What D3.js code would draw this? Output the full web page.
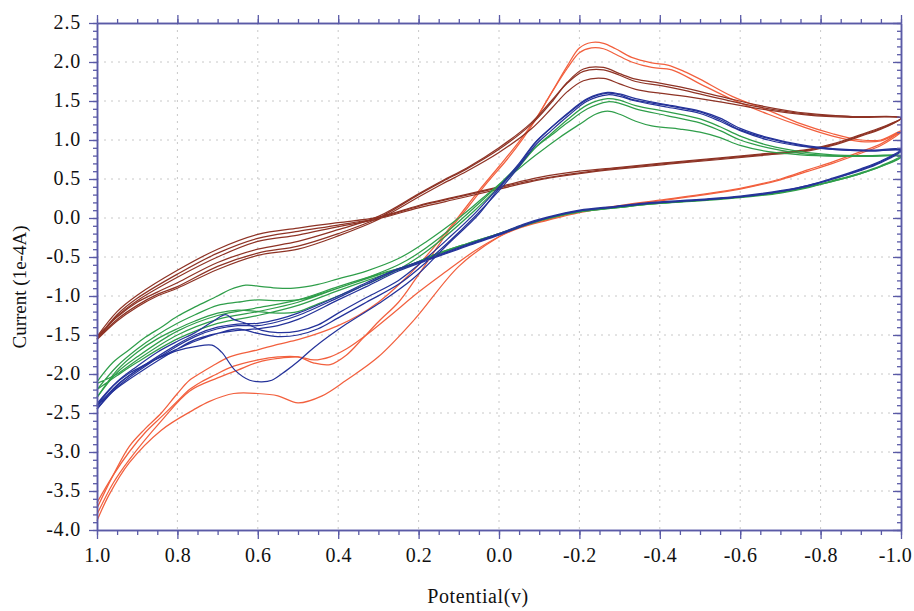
<!DOCTYPE html>
<html lang="en">
<head>
    <meta charset="UTF-8">
    <title>Cyclic Voltammetry</title>
    <script src="https://cdn.jsdelivr.net/npm/d3@7/dist/d3.min.js"></script>
    <style>
        body { margin: 0; background: #fff; }
    </style>
</head>
<body>
<svg id="main" width="914" height="611"></svg>
<script>
    // axis ticks (potential in V, current in 1e-4 A)
    const xTickValues = [1.0, 0.8, 0.6, 0.4, 0.2, 0.0, -0.2, -0.4, -0.6, -0.8, -1.0];
    const yTickValues = [2.5, 2.0, 1.5, 1.0, 0.5, 0.0, -0.5, -1.0, -1.5, -2.0, -2.5, -3.0, -3.5, -4.0];

    // each scan: [potential, current], forward then return
    const brownScan1 = [[1.0,-1.55],[0.95,-1.3],[0.9,-1.12],[0.85,-0.98],[0.8,-0.88],[0.7,-0.62],[0.6,-0.45],[0.5,-0.36],[0.4,-0.2],[0.3,0.0],[0.2,0.3],[0.14,0.47],[0.08,0.63],[0.0,0.88],[-0.08,1.2],[-0.13,1.48],[-0.17,1.74],[-0.21,1.91],[-0.26,1.93],[-0.3,1.85],[-0.34,1.78],[-0.4,1.73],[-0.45,1.68],[-0.55,1.56],[-0.65,1.44],[-0.77,1.34],[-0.88,1.3],[-1.0,1.28],
        [-0.95,1.16],[-0.9,1.07],[-0.83,0.95],[-0.77,0.88],[-0.65,0.82],[-0.55,0.77],[-0.42,0.71],[-0.3,0.65],[-0.2,0.6],[-0.1,0.52],[0.0,0.4],[0.1,0.28],[0.2,0.16],[0.3,0.01],[0.4,-0.06],[0.5,-0.13],[0.6,-0.21],[0.7,-0.4],[0.8,-0.67],[0.9,-0.99],[0.95,-1.2],[1.0,-1.52]];
    const brownScan2 = [[1.0,-1.52],[0.95,-1.27],[0.9,-1.08],[0.85,-0.95],[0.8,-0.83],[0.7,-0.57],[0.6,-0.4],[0.5,-0.3],[0.4,-0.15],[0.3,0.02],[0.2,0.31],[0.14,0.48],[0.08,0.64],[0.0,0.9],[-0.08,1.22],[-0.13,1.5],[-0.17,1.73],[-0.21,1.88],[-0.26,1.9],[-0.3,1.83],[-0.34,1.75],[-0.4,1.7],[-0.45,1.65],[-0.55,1.53],[-0.65,1.42],[-0.77,1.33],[-0.88,1.3],[-1.0,1.28],
        [-0.95,1.15],[-0.9,1.06],[-0.83,0.94],[-0.77,0.87],[-0.65,0.81],[-0.55,0.76],[-0.42,0.7],[-0.3,0.64],[-0.2,0.58],[-0.1,0.5],[0.0,0.39],[0.1,0.27],[0.2,0.15],[0.3,0.0],[0.4,-0.09],[0.5,-0.17],[0.6,-0.26],[0.7,-0.45],[0.8,-0.72],[0.9,-1.03],[0.95,-1.24],[1.0,-1.55]];
    const brownScan3 = [[1.0,-1.56],[0.95,-1.32],[0.9,-1.14],[0.85,-1.0],[0.8,-0.9],[0.7,-0.66],[0.6,-0.48],[0.5,-0.4],[0.4,-0.23],[0.3,-0.02],[0.2,0.27],[0.14,0.44],[0.08,0.6],[0.0,0.84],[-0.08,1.14],[-0.13,1.4],[-0.17,1.62],[-0.21,1.76],[-0.26,1.79],[-0.3,1.72],[-0.34,1.65],[-0.4,1.6],[-0.45,1.57],[-0.55,1.49],[-0.65,1.4],[-0.77,1.32],[-0.88,1.29],[-1.0,1.28],
        [-0.95,1.14],[-0.9,1.05],[-0.83,0.93],[-0.77,0.86],[-0.65,0.8],[-0.55,0.75],[-0.42,0.69],[-0.3,0.63],[-0.2,0.57],[-0.1,0.49],[0.0,0.37],[0.1,0.25],[0.2,0.13],[0.3,-0.01],[0.4,-0.11],[0.5,-0.22],[0.6,-0.3],[0.7,-0.5],[0.8,-0.76],[0.9,-1.06],[0.95,-1.26],[1.0,-1.56]];

    const orangeScan1 = [[1.0,-3.65],[0.96,-3.3],[0.92,-3.0],[0.88,-2.75],[0.84,-2.55],[0.8,-2.35],[0.77,-2.2],[0.74,-2.1],[0.71,-2.02],[0.66,-1.9],[0.6,-1.82],[0.55,-1.78],[0.5,-1.78],[0.46,-1.86],[0.42,-1.88],[0.38,-1.76],[0.34,-1.55],[0.3,-1.33],[0.25,-1.08],[0.21,-0.8],[0.17,-0.5],[0.13,-0.2],[0.08,0.12],[0.03,0.45],[-0.02,0.75],[-0.06,1.02],[-0.09,1.25],[-0.13,1.6],[-0.17,1.95],[-0.2,2.18],[-0.23,2.25],[-0.26,2.24],[-0.29,2.17],[-0.33,2.06],[-0.38,1.99],[-0.42,1.96],[-0.46,1.88],[-0.5,1.78],[-0.58,1.56],[-0.67,1.38],[-0.75,1.21],[-0.83,1.08],[-0.9,1.0],[-0.95,1.0],[-1.0,1.12],
        [-0.95,0.95],[-0.9,0.85],[-0.83,0.72],[-0.77,0.62],[-0.7,0.5],[-0.6,0.38],[-0.5,0.3],[-0.4,0.23],[-0.3,0.16],[-0.2,0.08],[-0.12,-0.02],[-0.05,-0.12],[0.0,-0.24],[0.1,-0.62],[0.21,-1.3],[0.3,-1.78],[0.38,-2.08],[0.44,-2.28],[0.5,-2.37],[0.55,-2.28],[0.6,-2.25],[0.66,-2.25],[0.72,-2.35],[0.76,-2.46],[0.84,-2.72],[0.92,-3.14],[0.97,-3.55],[1.0,-3.88]];
    const orangeScan2 = [[1.0,-3.72],[0.96,-3.3],[0.92,-2.93],[0.88,-2.7],[0.84,-2.5],[0.8,-2.25],[0.77,-2.08],[0.74,-1.98],[0.714,-1.9],[0.67,-1.78],[0.6,-1.69],[0.55,-1.62],[0.5,-1.56],[0.45,-1.48],[0.4,-1.38],[0.35,-1.25],[0.3,-1.08],[0.25,-0.86],[0.2,-0.6],[0.15,-0.3],[0.1,0.02],[0.05,0.35],[0.0,0.66],[-0.05,0.98],[-0.09,1.26],[-0.13,1.6],[-0.17,1.92],[-0.2,2.12],[-0.23,2.18],[-0.26,2.17],[-0.29,2.1],[-0.33,2.0],[-0.38,1.93],[-0.43,1.9],[-0.5,1.72],[-0.58,1.52],[-0.67,1.33],[-0.75,1.18],[-0.83,1.05],[-0.9,0.98],[-0.95,0.99],[-1.0,1.1],
        [-0.95,0.93],[-0.9,0.83],[-0.83,0.7],[-0.77,0.6],[-0.7,0.49],[-0.6,0.37],[-0.5,0.29],[-0.4,0.22],[-0.3,0.15],[-0.2,0.07],[-0.12,-0.03],[-0.05,-0.13],[0.0,-0.24],[0.06,-0.42],[0.13,-0.68],[0.2,-0.95],[0.27,-1.25],[0.33,-1.5],[0.38,-1.68],[0.42,-1.78],[0.46,-1.82],[0.5,-1.78],[0.55,-1.8],[0.6,-1.85],[0.65,-1.95],[0.7,-2.05],[0.77,-2.22],[0.84,-2.6],[0.92,-3.1],[0.96,-3.4],[1.0,-3.8]];

    const greenScan1 = [[1.0,-2.1],[0.96,-1.85],[0.92,-1.69],[0.88,-1.53],[0.84,-1.4],[0.8,-1.26],[0.756,-1.14],[0.7,-1.0],[0.67,-0.92],[0.63,-0.86],[0.59,-0.88],[0.55,-0.9],[0.51,-0.9],[0.45,-0.85],[0.4,-0.78],[0.33,-0.68],[0.25,-0.52],[0.18,-0.3],[0.1,0.0],[0.03,0.3],[-0.03,0.55],[-0.09,0.8],[-0.15,1.03],[-0.2,1.2],[-0.24,1.33],[-0.27,1.37],[-0.3,1.33],[-0.34,1.24],[-0.38,1.18],[-0.45,1.14],[-0.5,1.1],[-0.55,1.03],[-0.6,0.93],[-0.67,0.85],[-0.75,0.81],[-0.85,0.79],[-1.0,0.78],
        [-0.95,0.66],[-0.9,0.57],[-0.83,0.47],[-0.77,0.39],[-0.7,0.32],[-0.6,0.26],[-0.5,0.22],[-0.38,0.18],[-0.29,0.13],[-0.2,0.08],[-0.12,-0.01],[-0.06,-0.1],[0.0,-0.2],[0.08,-0.33],[0.16,-0.47],[0.22,-0.6],[0.3,-0.72],[0.4,-0.88],[0.5,-1.05],[0.6,-1.15],[0.7,-1.25],[0.8,-1.45],[0.9,-1.78],[0.95,-1.98],[1.0,-2.3]];
    const greenScan2 = [[1.0,-2.3],[0.95,-1.95],[0.9,-1.72],[0.85,-1.55],[0.8,-1.42],[0.756,-1.32],[0.7,-1.22],[0.65,-1.18],[0.6,-1.2],[0.55,-1.22],[0.5,-1.2],[0.45,-1.1],[0.4,-1.0],[0.33,-0.85],[0.25,-0.66],[0.2,-0.5],[0.13,-0.22],[0.06,0.1],[0.0,0.4],[-0.05,0.66],[-0.09,0.9],[-0.13,1.08],[-0.17,1.26],[-0.22,1.45],[-0.27,1.53],[-0.3,1.51],[-0.34,1.44],[-0.42,1.36],[-0.5,1.27],[-0.55,1.17],[-0.6,1.05],[-0.67,0.93],[-0.75,0.85],[-0.83,0.81],[-0.92,0.8],[-1.0,0.8],
        [-0.95,0.67],[-0.9,0.58],[-0.83,0.48],[-0.77,0.4],[-0.7,0.33],[-0.6,0.27],[-0.5,0.23],[-0.38,0.18],[-0.29,0.13],[-0.2,0.08],[-0.12,0.0],[-0.06,-0.1],[0.0,-0.21],[0.08,-0.34],[0.16,-0.48],[0.22,-0.61],[0.3,-0.75],[0.4,-0.93],[0.5,-1.12],[0.6,-1.25],[0.7,-1.35],[0.8,-1.55],[0.9,-1.85],[0.95,-2.02],[1.0,-2.2]];
    const greenScan3 = [[1.0,-2.2],[0.95,-1.9],[0.9,-1.68],[0.85,-1.5],[0.8,-1.35],[0.756,-1.24],[0.7,-1.12],[0.65,-1.08],[0.6,-1.05],[0.55,-1.06],[0.5,-1.05],[0.45,-0.98],[0.4,-0.9],[0.33,-0.77],[0.25,-0.6],[0.2,-0.45],[0.13,-0.18],[0.06,0.14],[0.0,0.43],[-0.05,0.68],[-0.09,0.9],[-0.13,1.06],[-0.17,1.22],[-0.22,1.4],[-0.27,1.49],[-0.3,1.47],[-0.34,1.4],[-0.42,1.31],[-0.5,1.22],[-0.55,1.12],[-0.6,1.0],[-0.67,0.9],[-0.75,0.83],[-0.83,0.8],[-0.92,0.79],[-1.0,0.79],
        [-0.95,0.66],[-0.9,0.57],[-0.83,0.47],[-0.77,0.4],[-0.7,0.33],[-0.6,0.27],[-0.5,0.23],[-0.38,0.18],[-0.29,0.14],[-0.2,0.09],[-0.12,0.0],[-0.06,-0.09],[0.0,-0.2],[0.08,-0.33],[0.16,-0.47],[0.22,-0.6],[0.3,-0.73],[0.4,-0.9],[0.5,-1.08],[0.6,-1.2],[0.7,-1.3],[0.8,-1.5],[0.9,-1.82],[0.95,-2.0],[1.0,-2.12]];

    const blueScan1 = [[1.0,-2.38],[0.96,-2.15],[0.92,-1.99],[0.88,-1.88],[0.84,-1.78],[0.8,-1.7],[0.756,-1.65],[0.714,-1.63],[0.69,-1.72],[0.657,-1.95],[0.62,-2.08],[0.59,-2.1],[0.565,-2.08],[0.53,-1.96],[0.5,-1.84],[0.46,-1.66],[0.38,-1.36],[0.3,-1.1],[0.214,-0.78],[0.13,-0.35],[0.05,0.05],[0.0,0.38],[-0.05,0.68],[-0.09,0.96],[-0.13,1.16],[-0.17,1.33],[-0.22,1.52],[-0.27,1.6],[-0.3,1.58],[-0.33,1.52],[-0.42,1.44],[-0.5,1.36],[-0.55,1.26],[-0.6,1.13],[-0.67,1.02],[-0.75,0.93],[-0.83,0.88],[-0.92,0.86],[-1.0,0.87],
        [-0.95,0.72],[-0.9,0.62],[-0.83,0.5],[-0.77,0.42],[-0.7,0.34],[-0.6,0.27],[-0.5,0.23],[-0.38,0.19],[-0.29,0.14],[-0.2,0.09],[-0.12,0.0],[-0.06,-0.09],[0.0,-0.21],[0.08,-0.35],[0.16,-0.5],[0.25,-0.66],[0.33,-0.85],[0.4,-1.02],[0.5,-1.25],[0.55,-1.33],[0.6,-1.38],[0.65,-1.38],[0.7,-1.42],[0.756,-1.52],[0.8,-1.64],[0.9,-1.97],[0.95,-2.17],[1.0,-2.45]];
    const blueScan2 = [[1.0,-2.45],[0.95,-2.15],[0.9,-1.95],[0.85,-1.8],[0.8,-1.68],[0.756,-1.58],[0.7,-1.48],[0.65,-1.42],[0.6,-1.48],[0.55,-1.52],[0.5,-1.5],[0.45,-1.42],[0.4,-1.28],[0.33,-1.08],[0.25,-0.85],[0.2,-0.65],[0.13,-0.33],[0.06,0.02],[0.0,0.35],[-0.05,0.66],[-0.09,0.93],[-0.13,1.12],[-0.17,1.3],[-0.22,1.5],[-0.27,1.58],[-0.3,1.56],[-0.34,1.5],[-0.42,1.42],[-0.5,1.34],[-0.55,1.24],[-0.6,1.12],[-0.67,1.0],[-0.75,0.92],[-0.83,0.88],[-0.92,0.86],[-1.0,0.86],
        [-0.95,0.71],[-0.9,0.61],[-0.83,0.5],[-0.77,0.41],[-0.7,0.34],[-0.6,0.27],[-0.5,0.23],[-0.38,0.19],[-0.29,0.14],[-0.2,0.09],[-0.12,0.0],[-0.06,-0.1],[0.0,-0.22],[0.08,-0.36],[0.16,-0.51],[0.25,-0.68],[0.33,-0.88],[0.4,-1.05],[0.5,-1.3],[0.55,-1.38],[0.6,-1.42],[0.65,-1.44],[0.7,-1.48],[0.756,-1.56],[0.8,-1.68],[0.9,-2.0],[0.95,-2.18],[1.0,-2.4]];
    const blueScan3 = [[1.0,-2.4],[0.95,-2.1],[0.9,-1.9],[0.85,-1.72],[0.8,-1.58],[0.756,-1.47],[0.71,-1.32],[0.68,-1.24],[0.66,-1.3],[0.63,-1.35],[0.59,-1.44],[0.55,-1.47],[0.5,-1.45],[0.45,-1.37],[0.4,-1.22],[0.33,-1.02],[0.25,-0.8],[0.2,-0.6],[0.13,-0.28],[0.06,0.06],[0.0,0.4],[-0.05,0.7],[-0.09,0.97],[-0.13,1.16],[-0.17,1.34],[-0.22,1.53],[-0.27,1.61],[-0.3,1.59],[-0.34,1.53],[-0.42,1.45],[-0.5,1.37],[-0.55,1.28],[-0.6,1.15],[-0.67,1.03],[-0.75,0.94],[-0.83,0.89],[-0.92,0.87],[-1.0,0.88],
        [-0.95,0.73],[-0.9,0.63],[-0.83,0.51],[-0.77,0.42],[-0.7,0.35],[-0.6,0.28],[-0.5,0.24],[-0.38,0.2],[-0.29,0.15],[-0.2,0.1],[-0.12,0.01],[-0.06,-0.08],[0.0,-0.2],[0.08,-0.34],[0.16,-0.49],[0.25,-0.65],[0.33,-0.83],[0.4,-1.0],[0.5,-1.22],[0.55,-1.3],[0.6,-1.35],[0.65,-1.36],[0.7,-1.4],[0.756,-1.5],[0.8,-1.62],[0.9,-1.95],[0.95,-2.14],[1.0,-2.42]];

    const seriesColors = ['#f2603e', '#8e3325', '#2f9e4a', '#25339a'];
    const seriesScans = [
        [orangeScan1, orangeScan2],
        [brownScan1, brownScan2, brownScan3],
        [greenScan1, greenScan2, greenScan3],
        [blueScan1, blueScan2, blueScan3]
    ];

    let svg = d3.select('svg#main');
    let plotLeft = 97, plotRight = 901, plotTop = 23, plotBottom = 530;
    const axisColor = '#5a5aa6';
    const serif = '"Liberation Serif", "DejaVu Serif", serif';

    svg.append('rect').attr('width', 914).attr('height', 611).attr('fill', '#fff');

    let x = d3.scaleLinear().domain([1.0, -1.0]).range([plotLeft, plotRight]);
    let y = d3.scaleLinear().domain([-4.0, 2.5]).range([plotBottom, plotTop]);

    // dotted grid
    let grid = svg.append('g').attr('stroke', '#c8c8c8').attr('stroke-dasharray', '2,5');
    grid.selectAll('line.gx').data(xTickValues.slice(1, -1)).enter().append('line')
        .attr('x1', d => x(d)).attr('x2', d => x(d))
        .attr('y1', plotTop).attr('y2', plotBottom);
    grid.selectAll('line.gy').data(yTickValues.slice(1, -1)).enter().append('line')
        .attr('y1', d => y(d)).attr('y2', d => y(d))
        .attr('x1', plotLeft).attr('x2', plotRight);

    // curves
    let line = d3.line()
        .x(d => x(d[0]))
        .y(d => y(d[1]))
        .curve(d3.curveCatmullRom.alpha(0.5));

    seriesScans.forEach(function(scans, i) {
        svg.append('g').selectAll('path')
            .data(scans)
            .enter()
            .append('path')
            .attr('d', line)
            .attr('fill', 'none')
            .attr('stroke', seriesColors[i])
            .attr('stroke-width', 1.25);
    });

    // axes: majors with labels, minors without
    const fmt = d => d.toFixed(1);
    function styleAxis(g) {
        g.attr('font-family', serif);
        g.selectAll('path').attr('stroke', axisColor).attr('stroke-width', 1.5);
        g.selectAll('line').attr('stroke', axisColor).attr('stroke-width', 1.3);
    }

    let xMinor = x.ticks(40), yMinor = y.ticks(65);

    svg.append('g').attr('transform', 'translate(0,' + plotBottom + ')')
        .call(d3.axisBottom(x).tickValues(xMinor).tickSize(5).tickSizeOuter(0).tickFormat(''))
        .call(styleAxis);
    let xAxis = svg.append('g').attr('transform', 'translate(0,' + plotBottom + ')')
        .call(d3.axisBottom(x).tickValues(xTickValues).tickSize(9).tickSizeOuter(0).tickFormat(fmt))
        .call(styleAxis);
    xAxis.selectAll('text')
        .attr('y', 18).attr('dy', 0)
        .attr('x', d => d === -1.0 ? -6 : 0)
        .attr('dominant-baseline', 'hanging')
        .style('font-family', serif)
        .style('font-size', '20px').style('letter-spacing', '0.5px')
        .attr('fill', '#111');

    svg.append('g').attr('transform', 'translate(0,' + plotTop + ')')
        .call(d3.axisTop(x).tickValues(xMinor).tickSize(4).tickSizeOuter(0).tickFormat(''))
        .call(styleAxis);
    svg.append('g').attr('transform', 'translate(0,' + plotTop + ')')
        .call(d3.axisTop(x).tickValues(xTickValues).tickSize(8).tickSizeOuter(0).tickFormat(''))
        .call(styleAxis);

    svg.append('g').attr('transform', 'translate(' + plotLeft + ',0)')
        .call(d3.axisLeft(y).tickValues(yMinor).tickSize(4).tickSizeOuter(0).tickFormat(''))
        .call(styleAxis);
    let yAxis = svg.append('g').attr('transform', 'translate(' + plotLeft + ',0)')
        .call(d3.axisLeft(y).tickValues(yTickValues).tickSize(8).tickSizeOuter(0).tickFormat(fmt))
        .call(styleAxis);
    yAxis.selectAll('text')
        .attr('x', -16).attr('dy', '0.28em')
        .style('font-family', serif)
        .style('font-size', '20px').style('letter-spacing', '0.8px')
        .attr('fill', '#111');

    svg.append('g').attr('transform', 'translate(' + plotRight + ',0)')
        .call(d3.axisRight(y).tickValues(yMinor).tickSize(-4).tickSizeOuter(0).tickFormat(''))
        .call(styleAxis);
    svg.append('g').attr('transform', 'translate(' + plotRight + ',0)')
        .call(d3.axisRight(y).tickValues(yTickValues).tickSize(-8).tickSizeOuter(0).tickFormat(''))
        .call(styleAxis);

    // axis titles
    svg.append('text')
        .attr('transform', 'translate(26,287) rotate(-90)')
        .attr('text-anchor', 'middle')
        .style('font-family', serif)
        .style('font-size', '19px')
        .attr('fill', '#111')
        .text('Current (1e-4A)');

    svg.append('text')
        .attr('x', 478).attr('y', 603)
        .attr('text-anchor', 'middle')
        .style('font-family', serif)
        .style('font-size', '20px').style('letter-spacing', '0.6px')
        .attr('fill', '#111')
        .text('Potential(v)');
</script>
</body>
</html>
